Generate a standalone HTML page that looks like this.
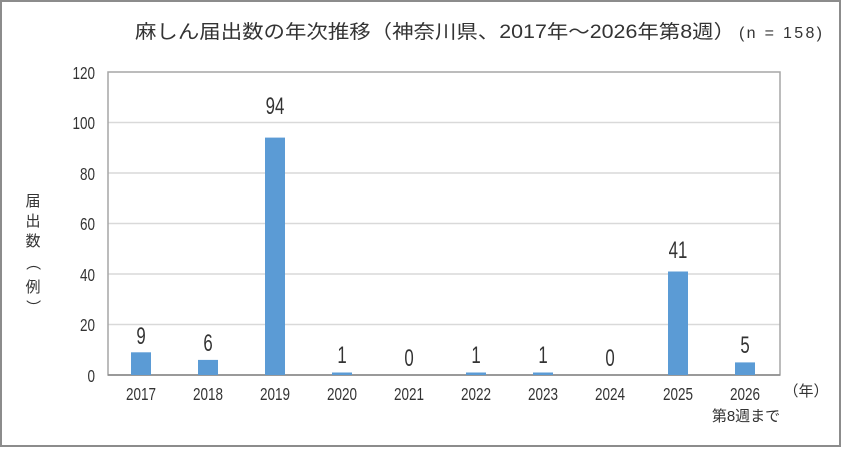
<!DOCTYPE html>
<html><head><meta charset="utf-8"><style>
body{margin:0;background:#fff}
svg text{font-family:"Liberation Sans","Noto Sans CJK JP",sans-serif;fill:#333}
</style></head><body>
<svg width="841" height="447" xmlns="http://www.w3.org/2000/svg">
<rect x="1" y="1" width="839" height="445" fill="#fff" stroke="#8c8c8c" stroke-width="2"/>
<text x="135" y="38" font-size="19" textLength="600" lengthAdjust="spacingAndGlyphs">麻しん届出数の年次推移（神奈川県、2017年～2026年第8週）</text>
<text x="739" y="38" font-size="16" textLength="83" lengthAdjust="spacing">(n = 158)</text>
<g stroke="#d9d9d9" stroke-width="1.5">
<line x1="108" y1="122.5" x2="780" y2="122.5"/>
<line x1="108" y1="173" x2="780" y2="173"/>
<line x1="108" y1="223.5" x2="780" y2="223.5"/>
<line x1="108" y1="274" x2="780" y2="274"/>
<line x1="108" y1="324.5" x2="780" y2="324.5"/>
</g>
<rect x="108" y="72" width="672" height="303" fill="none" stroke="#a6a6a6" stroke-width="1.5"/>
<line x1="108" y1="375" x2="780" y2="375" stroke="#888" stroke-width="1.5"/>
<g font-size="18" text-anchor="end">
<text transform="translate(95,79) scale(0.75,1)">120</text><text transform="translate(95,129) scale(0.75,1)">100</text><text transform="translate(95,180) scale(0.75,1)">80</text>
<text transform="translate(95,230) scale(0.75,1)">60</text><text transform="translate(95,281) scale(0.75,1)">40</text><text transform="translate(95,331) scale(0.75,1)">20</text><text transform="translate(95,382) scale(0.75,1)">0</text>
</g>
<g font-size="15" text-anchor="middle">
<text x="33" y="206">届</text><text x="33" y="226">出</text><text x="33" y="246">数</text>
<text x="33" y="268" transform="rotate(90 33 263)">（</text><text x="33" y="292">例</text>
<text x="33" y="312" transform="rotate(90 33 307)">）</text>
</g>
<g fill="#5b9bd5">
<rect x="131" y="352.3" width="20" height="22.7"/>
<rect x="198" y="359.9" width="20" height="15.1"/>
<rect x="265" y="137.6" width="20" height="237.4"/>
<rect x="332" y="372.5" width="20" height="2.5"/>
<rect x="466" y="372.5" width="20" height="2.5"/>
<rect x="533" y="372.5" width="20" height="2.5"/>
<rect x="668" y="271.5" width="20" height="103.5"/>
<rect x="735" y="362.4" width="20" height="12.6"/>
</g>
<g font-size="24" text-anchor="middle">
<text transform="translate(141,344) scale(0.7,1)">9</text><text transform="translate(208,351) scale(0.7,1)">6</text><text transform="translate(275,114) scale(0.7,1)">94</text>
<text transform="translate(342,363) scale(0.7,1)">1</text><text transform="translate(409,366) scale(0.7,1)">0</text><text transform="translate(476,363) scale(0.7,1)">1</text>
<text transform="translate(543,363) scale(0.7,1)">1</text><text transform="translate(610,366) scale(0.7,1)">0</text><text transform="translate(678,258) scale(0.7,1)">41</text><text transform="translate(745,353) scale(0.7,1)">5</text>
</g>
<g font-size="18" text-anchor="middle">
<text transform="translate(141,400) scale(0.75,1)">2017</text><text transform="translate(208,400) scale(0.75,1)">2018</text><text transform="translate(275,400) scale(0.75,1)">2019</text>
<text transform="translate(342,400) scale(0.75,1)">2020</text><text transform="translate(409,400) scale(0.75,1)">2021</text><text transform="translate(476,400) scale(0.75,1)">2022</text>
<text transform="translate(543,400) scale(0.75,1)">2023</text><text transform="translate(610,400) scale(0.75,1)">2024</text><text transform="translate(678,400) scale(0.75,1)">2025</text>
<text transform="translate(745,400) scale(0.75,1)">2026</text>
</g>
<text x="746" y="421" font-size="15" text-anchor="middle">第8週まで</text>
<text x="806" y="396" font-size="15" text-anchor="middle">（年）</text>
</svg>
</body></html>
